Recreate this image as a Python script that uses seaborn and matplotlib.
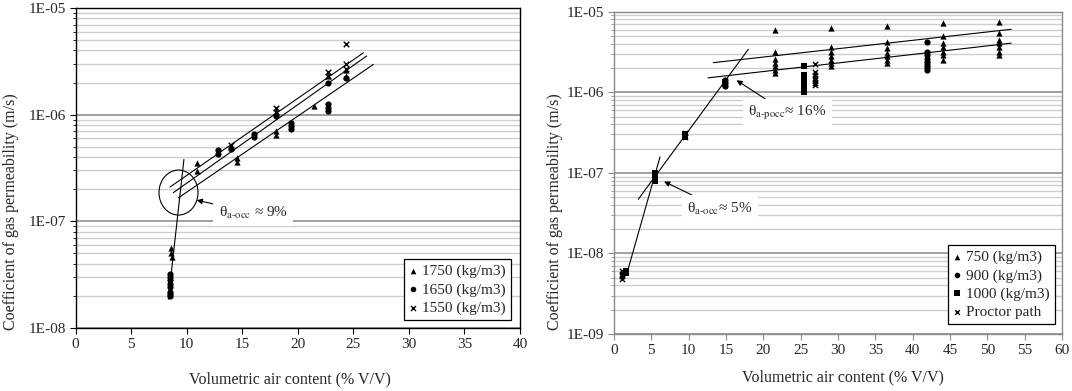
import matplotlib
matplotlib.use("Agg")
import matplotlib.pyplot as plt
from matplotlib.patches import Ellipse
from matplotlib.ticker import LogLocator, FuncFormatter, NullFormatter
import seaborn as sns

# ---- left panel: sand mixes 1550-1750 kg/m3 ----
d1750_x = [8.6, 8.6, 8.7, 10.9, 10.9, 14.0, 14.5, 14.5, 18.0, 18.0, 18.0, 21.5, 22.7, 24.3, 24.3]
d1750_k = [5.6e-8, 5.0e-8, 4.6e-8, 3.5e-7, 2.95e-7, 5.0e-7, 3.9e-7, 3.6e-7, 1.05e-6, 7.0e-7, 6.4e-7,
           1.2e-6, 2.3e-6, 2.6e-6, 2.3e-6]
d1650_x = [8.5, 8.5, 8.5, 8.5, 8.5, 8.5, 8.5, 8.5, 12.8, 12.8, 14.0, 16.1, 16.1, 18.0, 19.4, 19.4,
           19.4, 22.7, 22.7, 22.7, 22.7, 24.3]
d1650_k = [3.2e-8, 3.0e-8, 2.8e-8, 2.6e-8, 2.4e-8, 2.2e-8, 2.1e-8, 2.0e-8, 4.7e-7, 4.3e-7, 4.8e-7,
           6.6e-7, 6.2e-7, 9.8e-7, 8.3e-7, 7.8e-7, 7.3e-7, 1.25e-6, 1.15e-6, 1.08e-6, 2.0e-6, 2.2e-6]
d1550_x = [14.0, 18.0, 18.0, 22.7, 22.7, 24.3, 24.3, 24.3]
d1550_k = [5.2e-7, 1.15e-6, 1.05e-6, 2.5e-6, 2.3e-6, 4.6e-6, 3.0e-6, 2.7e-6]

left_steep_x = [8.35, 9.75]
left_steep_k = [1.86e-8, 3.8e-7]
left_fit_x = [[8.5, 25.9], [8.8, 26.2], [9.25, 26.8]]
left_fit_k = [[2.1e-7, 3.8e-6], [1.86e-7, 3.55e-6], [1.66e-7, 2.96e-6]]

# ---- right panel: 750-1000 kg/m3 and proctor path ----
d750_x = [21.6] * 7 + [29.0] * 7 + [36.5] * 7 + [44.1] * 7 + [51.5] * 7
d750_k = [6.0e-6, 3.2e-6, 2.57e-6, 2.3e-6, 2.1e-6, 1.9e-6, 1.75e-6,
          6.2e-6, 3.6e-6, 3.2e-6, 2.8e-6, 2.5e-6, 2.3e-6, 2.1e-6,
          6.7e-6, 4.25e-6, 3.5e-6, 3.1e-6, 2.8e-6, 2.5e-6, 2.3e-6,
          7.2e-6, 5.0e-6, 4.1e-6, 3.6e-6, 3.2e-6, 2.9e-6, 2.5e-6,
          7.5e-6, 5.5e-6, 4.45e-6, 4.1e-6, 3.6e-6, 3.2e-6, 2.9e-6]
d900_x = [14.9, 14.9, 14.9, 41.9, 41.9, 41.9, 41.9, 41.9, 41.9, 41.9, 41.9]
d900_k = [1.4e-6, 1.3e-6, 1.2e-6, 4.25e-6, 3.2e-6, 2.9e-6, 2.6e-6, 2.4e-6, 2.2e-6, 2.05e-6, 1.9e-6]
d1000_x = [1.6, 1.6, 5.5, 5.5, 5.5, 5.5, 9.5, 9.5, 14.9, 14.9,
           25.4, 25.4, 25.4, 25.4, 25.4, 25.4, 25.4, 25.4]
d1000_k = [6.1e-9, 5.7e-9, 1.0e-7, 9.3e-8, 8.6e-8, 8.0e-8, 3.0e-7, 2.8e-7, 1.35e-6, 1.25e-6,
           2.1e-6, 1.64e-6, 1.5e-6, 1.4e-6, 1.3e-6, 1.2e-6, 1.1e-6, 1.0e-6]
proctor_x = [1.0, 1.0, 1.0, 1.0, 9.5, 9.5, 26.9, 26.9, 26.9, 26.9, 26.9, 26.9, 26.9]
proctor_k = [6.0e-9, 5.6e-9, 5.2e-9, 4.8e-9, 3.1e-7, 2.75e-7,
             2.24e-6, 1.8e-6, 1.65e-6, 1.5e-6, 1.4e-6, 1.3e-6, 1.23e-6]

right_steep_x = [[3.25, 17.98], [1.78, 6.16]]
right_steep_k = [[4.7e-8, 3.41e-6], [5.9e-9, 1.58e-7]]
right_fit_x = [[13.3, 53.2], [12.6, 53.2]]
right_fit_k = [[2.33e-6, 6.05e-6], [1.51e-6, 4.07e-6]]

left_xticks = [0, 5, 10, 15, 20, 25, 30, 35, 40]
right_xticks = [0, 5, 10, 15, 20, 25, 30, 35, 40, 45, 50, 55, 60]

sns.set_style("white")
plt.rcParams["font.family"] = ["Liberation Serif", "DejaVu Serif"]
plt.rcParams["mathtext.fontset"] = "stix"
FS = 11


def style_axis(ax, xticks, ymin, frame):
    ax.set_yscale("log")
    ax.set_xlim(xticks[0], xticks[-1])
    ax.set_ylim(ymin, 1e-5)
    ax.set_xticks(xticks)
    ax.yaxis.set_major_locator(LogLocator(base=10))
    ax.yaxis.set_minor_locator(LogLocator(base=10, subs=range(2, 10)))
    ax.yaxis.set_major_formatter(FuncFormatter(lambda v, p: f"{v:.0E}"))
    ax.yaxis.set_minor_formatter(NullFormatter())
    ax.grid(False)
    ax.grid(axis="y", which="major", color="#8f8f8f", lw=1.2)
    ax.grid(axis="y", which="minor", color="#cdcdcd", lw=1.0)
    ax.set_axisbelow(True)
    for s in ax.spines.values():
        s.set_color(frame)
        s.set_linewidth(1.0)
    ax.tick_params(axis="both", which="major", direction="out", length=4, width=0.8,
                   color=frame, labelsize=FS, pad=3, left=True, bottom=True)
    ax.tick_params(axis="y", which="minor", direction="out", length=2, width=0.6,
                   color=frame, left=True)
    ax.set_xlabel("")
    ax.set_ylabel("")


def scatter(ax, x, y, marker, label, s=20):
    lw = 1.0 if marker == "x" else 0
    sns.scatterplot(x=x, y=y, ax=ax, marker=marker, color="black", s=s,
                    linewidth=lw, edgecolor="black", label=label)


fig = plt.figure(figsize=(10.72, 3.91), dpi=100)
ax1 = fig.add_axes([0.0705, 0.161, 0.4146, 0.8185])
ax2 = fig.add_axes([0.5728, 0.1458, 0.4179, 0.8243])

arrow = dict(arrowstyle="-|>", color="black", lw=0.8, mutation_scale=8, shrinkA=0, shrinkB=0)
box = dict(fc="white", ec="none", pad=4)

# left panel
ax1.plot(left_steep_x, left_steep_k, color="black", lw=0.8)
for fx, fk in zip(left_fit_x, left_fit_k):
    ax1.plot(fx, fk, color="black", lw=0.8)
scatter(ax1, d1750_x, d1750_k, "^", "1750 (kg/m3)")
scatter(ax1, d1650_x, d1650_k, "o", "1650 (kg/m3)")
scatter(ax1, d1550_x, d1550_k, "x", "1550 (kg/m3)", s=16)
ax1.add_patch(Ellipse((0.2316, 0.4234), 0.0878, 0.1406, transform=ax1.transAxes,
                      fill=False, ec="black", lw=0.8))
ax1.annotate("θ$_{\\text{a-occ}}$ ≈ 9%", xy=(10.9, 1.58e-7), xytext=(16.0, 1.2e-7),
             ha="center", va="center", fontsize=FS, bbox=box, arrowprops=arrow)
style_axis(ax1, left_xticks, 1e-8, "black")

# right panel
for fx, fk in zip(right_steep_x, right_steep_k):
    ax2.plot(fx, fk, color="black", lw=0.8)
for fx, fk in zip(right_fit_x, right_fit_k):
    ax2.plot(fx, fk, color="black", lw=0.8)
scatter(ax2, d750_x, d750_k, "^", "750 (kg/m3)")
scatter(ax2, d900_x, d900_k, "o", "900 (kg/m3)")
scatter(ax2, d1000_x, d1000_k, "s", "1000 (kg/m3)")
scatter(ax2, proctor_x, proctor_k, "x", "Proctor path", s=14)
ax2.annotate("θ$_{\\text{a-pocc}}$≈ 16%", xy=(16.4, 1.41e-6), xytext=(23.2, 5.5e-7),
             ha="center", va="center", fontsize=FS, bbox=box, arrowprops=arrow)
ax2.annotate("θ$_{\\text{a-occ}}$≈ 5%", xy=(6.7, 7.8e-8), xytext=(14.2, 3.6e-8),
             ha="center", va="center", fontsize=FS, bbox=box, arrowprops=arrow)
style_axis(ax2, right_xticks, 1e-9, "#8a8a8a")

for ax, anchor in ((ax1, (0.98, 0.025)), (ax2, (0.984, 0.031))):
    leg = ax.legend(loc="lower right", bbox_to_anchor=anchor, fontsize=FS, frameon=True,
                    fancybox=False, edgecolor="black", framealpha=1, borderpad=0.35,
                    handlelength=0.5, handletextpad=0.35, labelspacing=0.28,
                    borderaxespad=0, markerscale=0.9)
    leg.get_frame().set_linewidth(0.9)

ylab = "Coefficient of gas permeability (m/s)"
xlab = "Volumetric air content (% V/V)"
fig.text(0.0103, 0.458, ylab, rotation=90, ha="center", va="center", fontsize=FS + 0.5)
fig.text(0.518, 0.458, ylab, rotation=90, ha="center", va="center", fontsize=FS + 0.5)
fig.text(0.27, 0.03, xlab, ha="center", va="center", fontsize=FS + 0.5)
fig.text(0.786, 0.036, xlab, ha="center", va="center", fontsize=FS + 0.5)

fig.savefig("out.png", dpi=100)
